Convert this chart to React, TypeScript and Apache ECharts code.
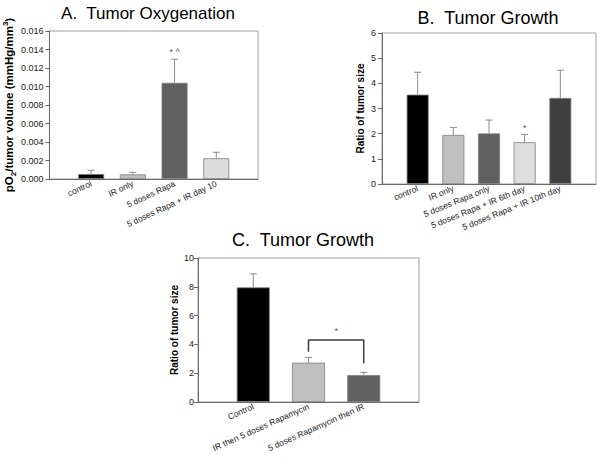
import React, { useEffect, useRef } from 'react';
import * as echarts from 'echarts';

const FONT = 'Liberation Sans, Arial, sans-serif';

// ---------- data ----------
const catsA = ['control', 'IR only', '5 doses Rapa', '5 doses Rapa + IR day 10'];
const valsA = [0.00054, 0.0005, 0.0104, 0.00224];
const semA = [0.0004, 0.00022, 0.00254, 0.00065];
const annA = [{ x: 2, y: 0.01372, text: '* ^' }];

const catsB = ['control', 'IR only', '5 doses Rapa only', '5 doses Rapa + IR 6th day', '5 doses Rapa + IR 10th day'];
const valsB = [3.55, 1.95, 2.01, 1.66, 3.42];
const semB = [0.89, 0.3, 0.53, 0.31, 1.1];
const annB = [{ x: 3, y: 2.24, text: '*' }];

const catsC = ['Control', 'IR then 5 doses Rapamycin', '5 doses Rapamycin then IR'];
const valsC = [7.96, 2.73, 1.87];
const semC = [0.94, 0.37, 0.19];
const bracketC = [[1, 3.49], [1, 4.3], [2, 4.3], [2, 2.69]];
const annC = [{ x: 1.5, y: 4.92, text: '*' }];

const titles = ['A.  Tumor Oxygenation', 'B.  Tumor Growth', 'C.  Tumor Growth'];

// ---------- styles / layout ----------
const colorsA = ['#000000', '#c0c0c0', '#606060', '#dcdcdc'];
const colorsB = ['#000000', '#c0c0c0', '#606060', '#dedede', '#404040'];
const colorsC = ['#000000', '#c0c0c0', '#606060'];

const panels = [
  {
    cats: catsA, vals: valsA, sem: semA, ann: annA, colors: colorsA,
    frame: { left: 46, top: 31, right: 258, bottom: 179 },
    barWidth: 26, yMax: 0.016, yInterval: 0.002, decimals: 3,
    name: '{n|pO}{sub|2}{n|/tumor volume (mmHg/mm}{sup|3}{n|)}',
    nameSize: 11.5, nameGap: 22, labelMargin: 6, rotate: 25,
    title: { x: 148, y: 13, size: 17 },
  },
  {
    cats: catsB, vals: valsB, sem: semB, ann: annB, colors: colorsB,
    frame: { left: 382, top: 33, right: 596, bottom: 184 },
    barWidth: 22, yMax: 6, yInterval: 1, decimals: 0,
    name: '{n|Ratio of tumor size}',
    nameSize: 10, nameGap: 14, labelMargin: 6, rotate: 22,
    title: { x: 488, y: 17.5, size: 18 },
  },
  {
    cats: catsC, vals: valsC, sem: semC, ann: annC, colors: colorsC,
    frame: { left: 198, top: 258, right: 419, bottom: 402 },
    barWidth: 33, yMax: 10, yInterval: 2, decimals: 0,
    name: '{n|Ratio of tumor size}',
    nameSize: 10, nameGap: 16, labelMargin: 4, rotate: 24,
    title: { x: 303, y: 240, size: 18 },
  },
];

function buildOption(): any {
  const grid: any[] = [];
  const xAxis: any[] = [];
  const yAxis: any[] = [];
  const series: any[] = [];
  const graphic: any[] = [];

  panels.forEach((p, k) => {
    const f = p.frame;
    grid.push({
      left: f.left, top: f.top, width: f.right - f.left, height: f.bottom - f.top,
      show: true, borderColor: '#a0a0a0', borderWidth: 1, backgroundColor: 'transparent',
    });
    const cats = p.cats;
    xAxis.push({
      type: 'value', gridIndex: k, min: -1, max: cats.length, interval: 1,
      axisLine: { show: true, onZero: false, lineStyle: { color: '#6a6a6a', width: 1 } },
      axisTick: { show: false },
      splitLine: { show: false },
      axisLabel: {
        rotate: p.rotate, fontSize: 8.5, fontFamily: FONT, color: '#222', margin: 4,
        showMinLabel: true, showMaxLabel: true,
        formatter: (v: number) => (Number.isInteger(v) && cats[v] !== undefined ? cats[v] : ''),
      },
    });
    yAxis.push({
      type: 'value', gridIndex: k, min: 0, max: p.yMax, interval: p.yInterval,
      axisLine: { show: true, onZero: false, lineStyle: { color: '#6a6a6a', width: 1 } },
      axisTick: { show: true, length: 4, lineStyle: { color: '#6a6a6a' } },
      splitLine: { show: false },
      axisLabel: {
        fontSize: 9, fontFamily: FONT, color: '#222', margin: p.labelMargin,
        formatter: (v: number) => v.toFixed(p.decimals),
      },
      name: p.name, nameLocation: 'middle', nameGap: p.nameGap,
      nameTextStyle: {
        rich: {
          n: { fontSize: p.nameSize, fontWeight: 'bold', fontFamily: FONT, color: '#000', lineHeight: 16 },
          sub: { fontSize: 8, fontWeight: 'bold', fontFamily: FONT, color: '#000', verticalAlign: 'bottom' },
          sup: { fontSize: 8, fontWeight: 'bold', fontFamily: FONT, color: '#000', verticalAlign: 'top' },
        },
      },
    });

    series.push({
      type: 'bar', xAxisIndex: k, yAxisIndex: k, barWidth: p.barWidth,
      itemStyle: { borderColor: '#808080', borderWidth: 0.8 },
      data: p.vals.map((v, i) => ({ value: [i, v], itemStyle: { color: p.colors[i] } })),
    });
    series.push({
      type: 'custom', xAxisIndex: k, yAxisIndex: k,
      encode: { x: 0, y: [1, 2] },
      data: p.vals.map((v, i) => [i, v, v + p.sem[i]]),
      renderItem: (params: any, api: any) => {
        const x = api.value(0);
        const a = api.coord([x, api.value(1)]);
        const b = api.coord([x, api.value(2)]);
        const st = { stroke: '#8a8a8a', lineWidth: 1 };
        return {
          type: 'group',
          children: [
            { type: 'line', shape: { x1: a[0], y1: a[1], x2: b[0], y2: b[1] }, style: st },
            { type: 'line', shape: { x1: b[0] - 3.5, y1: b[1], x2: b[0] + 3.5, y2: b[1] }, style: st },
          ],
        };
      },
      z: 3,
    });
    series.push({
      type: 'scatter', xAxisIndex: k, yAxisIndex: k, symbolSize: 1,
      itemStyle: { color: 'transparent' },
      data: p.ann.map((a) => ({ value: [a.x, a.y], label: { formatter: a.text } })),
      label: { show: true, position: 'inside', fontSize: 9, fontFamily: FONT, color: '#222' },
      z: 4,
    });

    graphic.push({
      type: 'text', x: p.title.x, y: p.title.y,
      style: {
        text: titles[k], fontSize: p.title.size, fontFamily: FONT, fill: '#000',
        align: 'center', verticalAlign: 'middle',
      },
    });
  });

  series.push({
    type: 'line', xAxisIndex: 2, yAxisIndex: 2, symbol: 'none',
    lineStyle: { color: '#3c3c3c', width: 1.5 },
    data: bracketC, z: 4,
  });

  return { animation: false, backgroundColor: '#fff', grid, xAxis, yAxis, series, graphic };
}

export default function App() {
  const ref = useRef<HTMLDivElement>(null);
  useEffect(() => {
    const chart = echarts.init(ref.current!, null, { renderer: 'svg' });
    chart.setOption(buildOption());
    return () => chart.dispose();
  }, []);
  return (
    <div
      ref={ref}
      style={{ position: 'fixed', left: 0, top: 0, width: 601, height: 459, background: '#fff' }}
    />
  );
}
